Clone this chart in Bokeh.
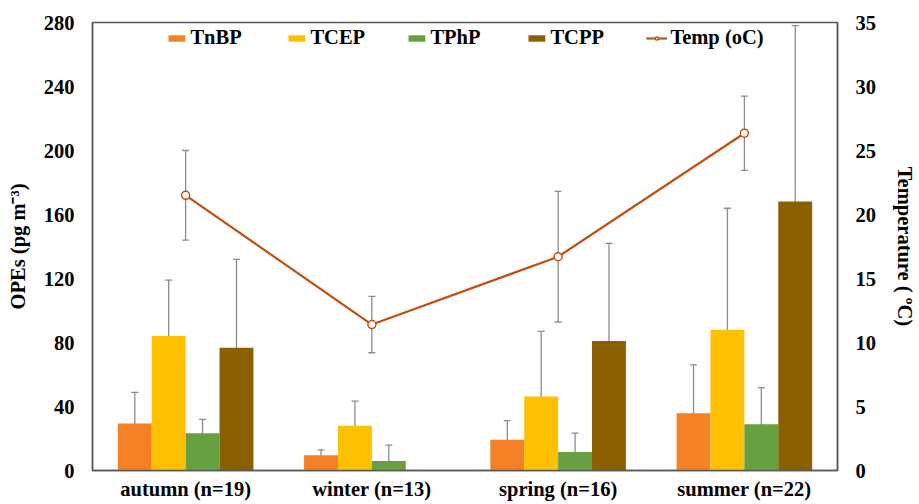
from bokeh.plotting import figure
from bokeh.models import (Range1d, LinearAxis, FixedTicker, ColumnDataSource,
                          Whisker, TeeHead, Legend, LegendItem)
from bokeh.embed import file_html
from bokeh.resources import INLINE

categories = ["autumn (n=19)", "winter (n=13)", "spring (n=16)", "summer (n=22)"]
series_names = ["TnBP", "TCEP", "TPhP", "TCPP"]
tnbp = [29.4, 9.6, 19.2, 35.8]
tnbp_err = [19.4, 3.3, 12.0, 30.2]
tcep = [84.0, 27.9, 46.3, 87.9]
tcep_err = [35.0, 15.5, 40.6, 76.0]
tphp = [23.3, 6.0, 11.5, 28.9]
tphp_err = [8.7, 9.8, 11.8, 22.9]
tcpp = [76.7, 0.0, 81.0, 168.1]
tcpp_err = [55.3, 0.0, 61.0, 110.0]
temp = [21.5, 11.4, 16.7, 26.35]
temp_err = [3.5, 2.2, 5.1, 2.9]
left_ticks = [0, 40, 80, 120, 160, 200, 240, 280]
right_ticks = [0, 5, 10, 15, 20, 25, 30, 35]

colors = ["#F58025", "#FFC000", "#66A040", "#8B6000"]
temp_color = "#C0500E"
err_color = "#8C8C8C"
axis_color = "#595959"
FONT = "Liberation Serif"
FS = "20.5px"

W, H = 919, 504
p = figure(width=W, height=H, output_backend="svg", toolbar_location=None,
           x_range=Range1d(0, 4), y_range=Range1d(0, 280),
           min_border_left=92, min_border_right=79, min_border_top=22,
           min_border_bottom=34)
p.extra_y_ranges = {"temp": Range1d(0, 35)}
p.xgrid.visible = False
p.ygrid.visible = False
p.outline_line_color = axis_color
p.outline_line_width = 1.5

centers = [i + 0.5 for i in range(len(categories))]
offsets = [-0.273, -0.091, 0.091, 0.273]
bw = 0.182

vals = [tnbp, tcep, tphp, tcpp]
errs = [tnbp_err, tcep_err, tphp_err, tcpp_err]
legend_items = []
for k, name in enumerate(series_names):
    xs, tops = [], []
    ex, eu, el = [], [], []
    for i in range(len(categories)):
        xs.append(centers[i] + offsets[k])
        tops.append(vals[k][i])
        if errs[k][i] > 0:
            ex.append(centers[i] + offsets[k])
            eu.append(vals[k][i] + errs[k][i])
            el.append(max(vals[k][i] - errs[k][i], 0))
    src = ColumnDataSource(dict(x=xs, top=tops))
    r = p.vbar(x="x", top="top", width=bw, source=src, fill_color=colors[k],
               line_color=None)
    legend_items.append(LegendItem(label=name, renderers=[r]))
    esrc = ColumnDataSource(dict(x=ex, upper=eu, lower=el))
    w = Whisker(base="x", upper="upper", lower="lower", source=esrc,
                line_color=err_color, line_width=1.3,
                upper_head=TeeHead(size=7, line_color=err_color, line_width=1.3),
                lower_head=TeeHead(size=7, line_color=err_color, line_width=1.3))
    p.add_layout(w)

tsrc = ColumnDataSource(dict(x=centers, y=temp,
                             upper=[t + e for t, e in zip(temp, temp_err)],
                             lower=[t - e for t, e in zip(temp, temp_err)]))
tw = Whisker(base="x", upper="upper", lower="lower", source=tsrc,
             y_range_name="temp", line_color=err_color, line_width=1.3,
             upper_head=TeeHead(size=7, line_color=err_color, line_width=1.3),
             lower_head=TeeHead(size=7, line_color=err_color, line_width=1.3))
p.add_layout(tw)
tl = p.line("x", "y", source=tsrc, y_range_name="temp", line_color=temp_color,
            line_width=2.2)
ts = p.scatter("x", "y", source=tsrc, y_range_name="temp", size=8,
               fill_color="white", line_color=temp_color, line_width=1.5)
legend_items.append(LegendItem(label="Temp (oC)", renderers=[tl, ts]))

legend = Legend(items=legend_items, orientation="horizontal",
                location="top_center", glyph_width=21, glyph_height=8,
                label_standoff=4, label_width=92, spacing=3, padding=0,
                margin=4, border_line_color=None, background_fill_alpha=0,
                label_text_font=FONT, label_text_font_style="bold",
                label_text_font_size=FS, label_text_color="black")
p.add_layout(legend, "center")

def style(ax):
    ax.axis_line_color = axis_color
    ax.axis_line_width = 1.5
    ax.major_tick_out = 0
    ax.major_tick_in = 0
    ax.minor_tick_out = 0
    ax.minor_tick_in = 0
    ax.major_tick_line_color = None
    ax.minor_tick_line_color = None
    ax.major_label_text_font = FONT
    ax.major_label_text_font_style = "bold"
    ax.major_label_text_font_size = FS
    ax.major_label_text_color = "black"
    ax.axis_label_text_font = FONT
    ax.axis_label_text_font_style = "bold"
    ax.axis_label_text_font_size = FS
    ax.axis_label_text_color = "black"

p.xaxis.ticker = FixedTicker(ticks=centers)
p.xaxis.major_label_overrides = {c: lab for c, lab in zip(centers, categories)}
style(p.xaxis[0])
p.xaxis.major_label_standoff = 7
p.xaxis.axis_label_standoff = 0

p.yaxis.ticker = FixedTicker(ticks=left_ticks)
p.yaxis.axis_label = "OPEs (pg m\u207b\u00b3)"
style(p.yaxis[0])
p.yaxis.major_label_standoff = 18
p.yaxis.axis_label_standoff = 12

ax2 = LinearAxis(y_range_name="temp", ticker=FixedTicker(ticks=right_ticks),
                 axis_label="Temperature ( \u00baC)")
style(ax2)
ax2.major_label_standoff = 18
ax2.axis_label_standoff = 15
p.add_layout(ax2, "right")

open("out.html", "w").write(file_html(p, INLINE))
